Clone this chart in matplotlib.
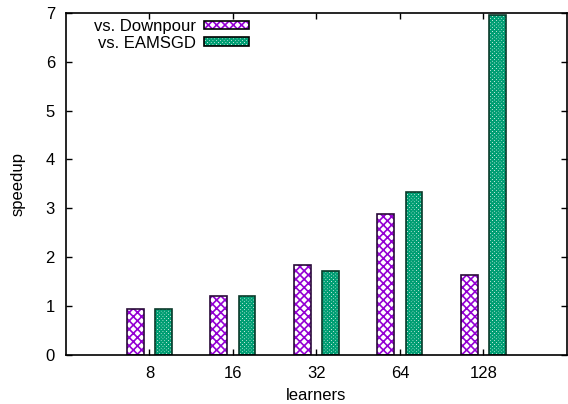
import numpy as np
import matplotlib
matplotlib.use("Agg")
import matplotlib.pyplot as plt
from matplotlib.patches import Patch
from matplotlib.legend_handler import HandlerTuple

plt.rcParams['font.family'] = ['Liberation Sans', 'DejaVu Sans']
plt.rcParams['font.size'] = 12
plt.rcParams['hatch.linewidth'] = 1.2

##### data #####
learners = ["8", "16", "32", "64", "128"]
vs_downpour = [0.93, 1.19, 1.84, 2.88, 1.62]
vs_eamsgd = [0.93, 1.19, 1.71, 3.33, 6.95]
################

PURPLE = "#9400d3"
GREEN = "#009e73"
H_PURPLE = "xxxx"
H_GREEN = "xxxxxxxxx"

fig = plt.figure(figsize=(5.68, 4.04), dpi=100)
ax = fig.add_axes([0.1162, 0.1225, 0.8818, 0.8455])

x = np.arange(len(learners))
w = 0.2
off = 0.17

# hatch layer, then dark outline on top
ax.bar(x - off, vs_downpour, w, facecolor="white", edgecolor=PURPLE, hatch=H_PURPLE, linewidth=0)
ax.bar(x - off, vs_downpour, w, fill=False, edgecolor="#2a0a3a", linewidth=1.2)
ax.bar(x + off, vs_eamsgd, w, facecolor="white", edgecolor=GREEN, hatch=H_GREEN, linewidth=0)
ax.bar(x + off, vs_eamsgd, w, fill=False, edgecolor="#0a3a2a", linewidth=1.2)

ax.set_xlim(-1, 5)
ax.set_ylim(0, 7)
ax.set_xticks(x)
ax.set_xticklabels(learners)
ax.set_yticks(range(0, 8))
ax.tick_params(axis="both", direction="in", length=4.5, width=1, top=True, right=True)
ax.tick_params(axis="y", pad=8)
ax.tick_params(axis="x", pad=8)
for s in ax.spines.values():
    s.set_linewidth(1.2)

ax.set_xlabel("learners", labelpad=5.5)
ax.set_ylabel("speedup", labelpad=14)

h1 = (Patch(facecolor="white", edgecolor=PURPLE, hatch=H_PURPLE, linewidth=0),
      Patch(fill=False, edgecolor="black", linewidth=1.2))
h2 = (Patch(facecolor="white", edgecolor=GREEN, hatch=H_GREEN, linewidth=0),
      Patch(fill=False, edgecolor="black", linewidth=1.2))
fig.legend([h1, h2], ["vs. Downpour", "vs. EAMSGD"], loc="upper right",
           bbox_to_anchor=(249 / 568, 1 - 19 / 404), frameon=False, markerfirst=False,
           handler_map={tuple: HandlerTuple(ndivide=1)},
           handlelength=2.7, handleheight=0.42, handletextpad=0.5,
           labelspacing=0.1, borderpad=0, borderaxespad=0)

plt.savefig("out.png", dpi=100)
plt.close()
